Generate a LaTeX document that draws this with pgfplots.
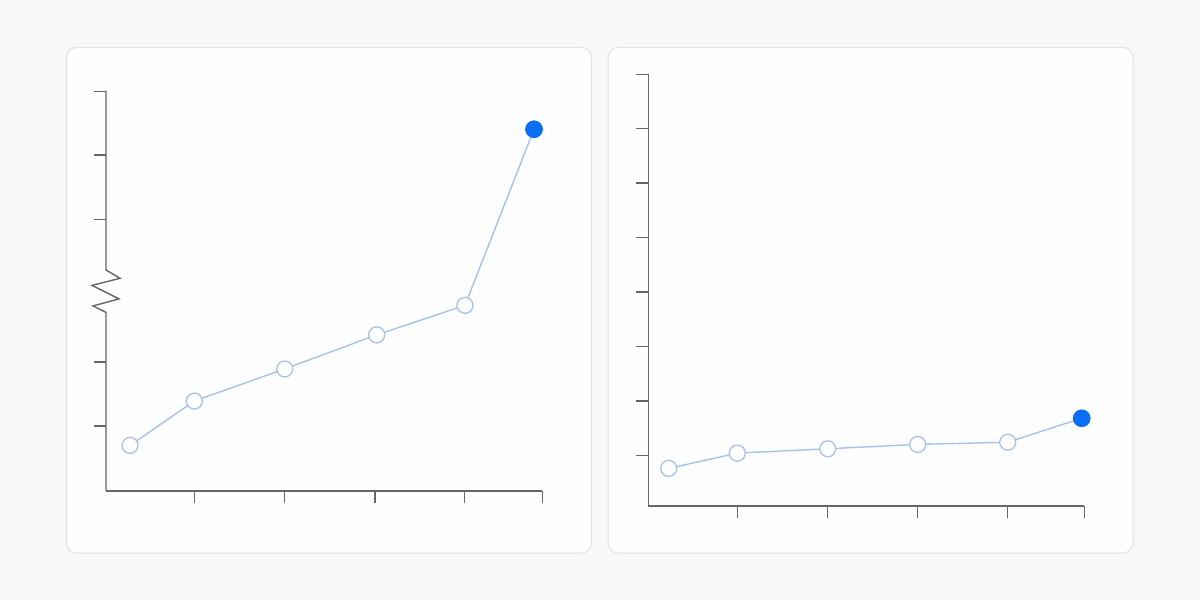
\documentclass[border=0pt]{standalone}
\usepackage{pgfplots}
\pgfplotsset{compat=1.18}
\definecolor{bg}{HTML}{F8F8F8}
\definecolor{panel}{HTML}{FEFEFE}
\definecolor{pborder}{HTML}{E2E2E2}
\definecolor{linec}{HTML}{A3C3EA}
\definecolor{markc}{HTML}{A6C2E8}
\definecolor{hi}{HTML}{0A6EF2}
\definecolor{axc}{HTML}{666666}
\pgfplotsset{mystyle/.style={
  scale only axis, axis lines=left,
  axis line style={axc, line width=0.7pt, -},
  tick style={axc, line width=0.7pt},
  major tick length=6pt, tick align=outside,
  xticklabels={}, yticklabels={}, clip=false},
  serie/.style={linec, line width=0.7pt, mark=*, mark size=4pt,
    mark options={fill=white, draw=markc, line width=0.65pt}},
  hipt/.style={only marks, mark=*, mark size=4.2pt, mark options={fill=hi, draw=hi}}
}
\begin{document}
\begin{tikzpicture}
\begin{scope}[x=0.5pt,y=-0.5pt]
\fill[bg] (0,0) rectangle (1200,600);
\draw[pborder, fill=panel, line width=0.5pt, rounded corners=5pt] (66.5,47.5) rectangle (591.5,553);
\draw[pborder, fill=panel, line width=0.5pt, rounded corners=5pt] (608,47.5) rectangle (1133,553);
\end{scope}
% left panel
\begin{axis}[mystyle, at={(53pt,-245.5pt)}, anchor=south west,
  width=218.15pt, height=200.15pt,
  xmin=0, xmax=4.848, ymin=0, ymax=6.23,
  xtick={0.986,1.986,2.99,3.986,4.848},
  ytick={1.01,2.01,4.23,5.23,6.22},
  y axis line style={draw=none}]
\addplot[serie] coordinates {(0.267,0.71)(0.981,1.40)(1.986,1.90)(3.008,2.43)(3.989,2.89)(4.756,5.63)};
\addplot[hipt] coordinates {(4.756,5.63)};
\draw[axc, line width=0.7pt] (axis cs:0,0) -- (axis cs:0,2.78) -- (axis cs:-0.144,2.88) -- (axis cs:0.144,2.99) -- (axis cs:-0.156,3.20) -- (axis cs:0.156,3.31) -- (axis cs:0,3.44) -- (axis cs:0,6.23);
\end{axis}
% right panel
\begin{axis}[mystyle, at={(324.15pt,-253pt)}, anchor=south west,
  width=218pt, height=215.85pt,
  xmin=0, xmax=4.855, ymin=0, ymax=7.92,
  xtick={0.991,1.993,3.0,4.0,4.855},
  ytick={0.923,1.923,2.923,3.923,4.923,5.923,6.923,7.92}]
\addplot[serie] coordinates {(0.227,0.69)(0.991,0.97)(1.998,1.05)(3.0,1.13)(4.002,1.17)(4.826,1.61)};
\addplot[hipt] coordinates {(4.826,1.61)};
\end{axis}
\end{tikzpicture}
\end{document}
